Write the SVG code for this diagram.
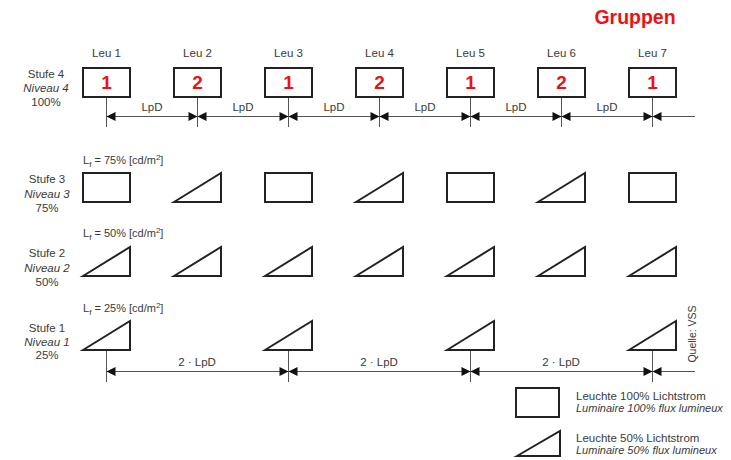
<svg xmlns="http://www.w3.org/2000/svg" width="731" height="460" viewBox="0 0 731 460">
<defs>
<style>
text{font-family:"Liberation Sans",Arial,sans-serif;fill:#3a3a3a}
.lbl{font-size:11.5px;text-anchor:middle}
.it{font-style:italic}
.num{font-size:19px;font-weight:bold;fill:#ee1111;text-anchor:middle}
.shape{fill:#fff;stroke:#222;stroke-width:2;stroke-linejoin:miter}
.dim{stroke:#555;stroke-width:1;fill:none}
.arr{fill:#111}
.leg{font-size:11.5px}
.legi{font-size:11px;font-style:italic}
</style>
<polygon id="aL" class="arr" points="0,0 9,-4.5 9,4.5"/>
<polygon id="aR" class="arr" points="0,0 -9,-4.5 -9,4.5"/>
</defs>
<rect width="731" height="460" fill="#fff"/>

<text x="635" y="24" style="font-size:19.5px;font-weight:bold;fill:#ee1111;text-anchor:middle">Gruppen</text>

<g id="stufe-labels">
<text class="lbl" x="46" y="78">Stufe 4</text>
<text class="lbl it" x="46" y="92">Niveau 4</text>
<text class="lbl" x="46" y="106">100%</text>
<text class="lbl" x="47" y="183">Stufe 3</text>
<text class="lbl it" x="47" y="198">Niveau 3</text>
<text class="lbl" x="47" y="212">75%</text>
<text class="lbl" x="47" y="257">Stufe 2</text>
<text class="lbl it" x="47" y="272">Niveau 2</text>
<text class="lbl" x="47" y="286">50%</text>
<text class="lbl" x="47" y="332">Stufe 1</text>
<text class="lbl it" x="47" y="346">Niveau 1</text>
<text class="lbl" x="47" y="359">25%</text>
</g>

<g id="lf-labels" style="font-size:11px">
<text x="83" y="164">L<tspan dy="3" font-size="8">f</tspan><tspan dy="-3"> = 75% [cd/m</tspan><tspan dy="-4" font-size="8">2</tspan><tspan dy="4">]</tspan></text>
<text x="83" y="237">L<tspan dy="3" font-size="8">f</tspan><tspan dy="-3"> = 50% [cd/m</tspan><tspan dy="-4" font-size="8">2</tspan><tspan dy="4">]</tspan></text>
<text x="83" y="312">L<tspan dy="3" font-size="8">f</tspan><tspan dy="-3"> = 25% [cd/m</tspan><tspan dy="-4" font-size="8">2</tspan><tspan dy="4">]</tspan></text>
</g>

<g id="connectors">
<line class="dim" x1="106.5" y1="116.5" x2="695" y2="116.5"/>
<line class="dim" x1="106.5" y1="97" x2="106.5" y2="127"/>
<line class="dim" x1="197.5" y1="97" x2="197.5" y2="127"/>
<line class="dim" x1="288.5" y1="97" x2="288.5" y2="127"/>
<line class="dim" x1="379.5" y1="97" x2="379.5" y2="127"/>
<line class="dim" x1="470.5" y1="97" x2="470.5" y2="127"/>
<line class="dim" x1="561.5" y1="97" x2="561.5" y2="127"/>
<line class="dim" x1="652.5" y1="97" x2="652.5" y2="127"/>
<use href="#aL" x="106.5" y="116.5"/>
<use href="#aR" x="197.5" y="116.5"/><use href="#aL" x="197.5" y="116.5"/>
<use href="#aR" x="288.5" y="116.5"/><use href="#aL" x="288.5" y="116.5"/>
<use href="#aR" x="379.5" y="116.5"/><use href="#aL" x="379.5" y="116.5"/>
<use href="#aR" x="470.5" y="116.5"/><use href="#aL" x="470.5" y="116.5"/>
<use href="#aR" x="561.5" y="116.5"/><use href="#aL" x="561.5" y="116.5"/>
<use href="#aR" x="652.5" y="116.5"/><use href="#aL" x="652.5" y="116.5"/>
<text class="lbl" x="152" y="111">LpD</text>
<text class="lbl" x="243" y="111">LpD</text>
<text class="lbl" x="334" y="111">LpD</text>
<text class="lbl" x="425" y="111">LpD</text>
<text class="lbl" x="516" y="111">LpD</text>
<text class="lbl" x="607" y="111">LpD</text>

<line class="dim" x1="106.5" y1="371.5" x2="695" y2="371.5"/>
<line class="dim" x1="106.5" y1="350" x2="106.5" y2="382"/>
<line class="dim" x1="288.5" y1="350" x2="288.5" y2="382"/>
<line class="dim" x1="470.5" y1="350" x2="470.5" y2="382"/>
<line class="dim" x1="652.5" y1="350" x2="652.5" y2="382"/>
<use href="#aL" x="106.5" y="371.5"/>
<use href="#aR" x="288.5" y="371.5"/><use href="#aL" x="288.5" y="371.5"/>
<use href="#aR" x="470.5" y="371.5"/><use href="#aL" x="470.5" y="371.5"/>
<use href="#aR" x="652.5" y="371.5"/><use href="#aL" x="652.5" y="371.5"/>
<text class="lbl" x="197" y="366">2 · LpD</text>
<text class="lbl" x="379" y="366">2 · LpD</text>
<text class="lbl" x="561" y="366">2 · LpD</text>
</g>

<g id="leu1">
<text class="lbl" x="106.5" y="57">Leu 1</text>
<rect class="shape" x="83" y="68" width="47" height="29"/>
<text class="num" x="106.5" y="89">1</text>
<rect class="shape" x="83" y="173" width="47" height="29"/>
<polygon class="shape" points="83,276 130,247 130,276"/>
<polygon class="shape" points="83,350 130,321 130,350"/>
</g>
<g id="leu2">
<text class="lbl" x="197.5" y="57">Leu 2</text>
<rect class="shape" x="174" y="68" width="47" height="29"/>
<text class="num" x="197.5" y="89">2</text>
<polygon class="shape" points="174,202 221,173 221,202"/>
<polygon class="shape" points="174,276 221,247 221,276"/>
</g>
<g id="leu3">
<text class="lbl" x="288.5" y="57">Leu 3</text>
<rect class="shape" x="265" y="68" width="47" height="29"/>
<text class="num" x="288.5" y="89">1</text>
<rect class="shape" x="265" y="173" width="47" height="29"/>
<polygon class="shape" points="265,276 312,247 312,276"/>
<polygon class="shape" points="265,350 312,321 312,350"/>
</g>
<g id="leu4">
<text class="lbl" x="379.5" y="57">Leu 4</text>
<rect class="shape" x="356" y="68" width="47" height="29"/>
<text class="num" x="379.5" y="89">2</text>
<polygon class="shape" points="356,202 403,173 403,202"/>
<polygon class="shape" points="356,276 403,247 403,276"/>
</g>
<g id="leu5">
<text class="lbl" x="470.5" y="57">Leu 5</text>
<rect class="shape" x="447" y="68" width="47" height="29"/>
<text class="num" x="470.5" y="89">1</text>
<rect class="shape" x="447" y="173" width="47" height="29"/>
<polygon class="shape" points="447,276 494,247 494,276"/>
<polygon class="shape" points="447,350 494,321 494,350"/>
</g>
<g id="leu6">
<text class="lbl" x="561.5" y="57">Leu 6</text>
<rect class="shape" x="538" y="68" width="47" height="29"/>
<text class="num" x="561.5" y="89">2</text>
<polygon class="shape" points="538,202 585,173 585,202"/>
<polygon class="shape" points="538,276 585,247 585,276"/>
</g>
<g id="leu7">
<text class="lbl" x="652.5" y="57">Leu 7</text>
<rect class="shape" x="629" y="68" width="47" height="29"/>
<text class="num" x="652.5" y="89">1</text>
<rect class="shape" x="629" y="173" width="47" height="29"/>
<polygon class="shape" points="629,276 676,247 676,276"/>
<polygon class="shape" points="629,350 676,321 676,350"/>
</g>

<text transform="translate(696,334) rotate(-90)" style="font-size:10.5px;text-anchor:middle">Quelle: VSS</text>

<g id="legend">
<rect class="shape" x="516" y="388" width="43" height="29"/>
<text class="leg" x="576" y="400">Leuchte 100% Lichtstrom</text>
<text class="legi" x="576" y="412">Luminaire 100% flux lumineux</text>
<polygon class="shape" points="517,456 560,431 560,456"/>
<text class="leg" x="576" y="442">Leuchte 50% Lichtstrom</text>
<text class="legi" x="576" y="454">Luminaire 50% flux lumineux</text>
</g>
</svg>
